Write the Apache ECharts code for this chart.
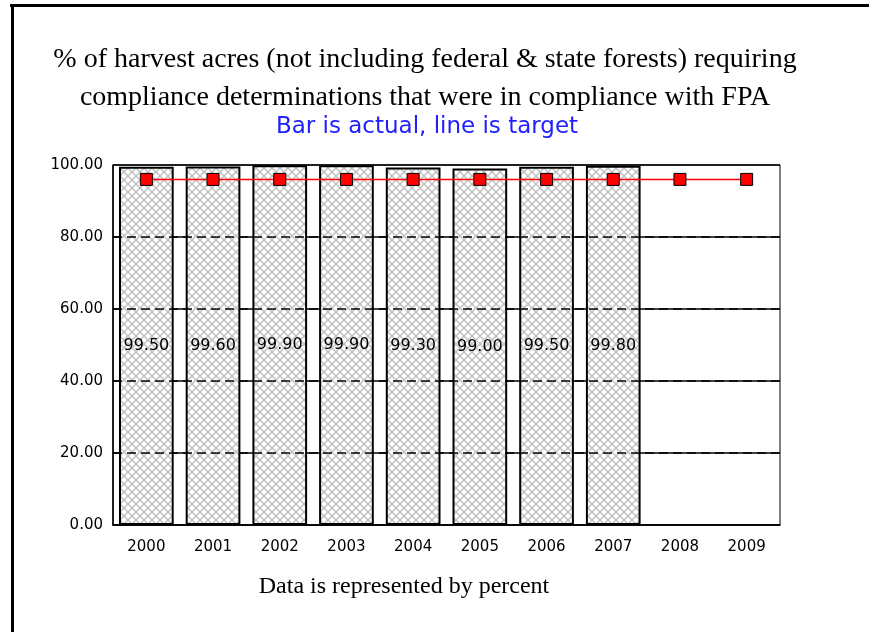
<!DOCTYPE html>
<html>
<head>
<meta charset="utf-8">
<script src="https://cdn.jsdelivr.net/npm/echarts@6/dist/echarts.min.js"></script>
<style>
html,body{margin:0;padding:0;background:#fff;}
#c{width:869px;height:632px;}
</style>
</head>
<body>
<div id="c"></div>
<script>
const years = ['2000','2001','2002','2003','2004','2005','2006','2007','2008','2009'];
const actual = [99.5, 99.6, 99.9, 99.9, 99.3, 99.0, 99.5, 99.8, null, null];
const target = [96, 96, 96, 96, 96, 96, 96, 96, 96, 96];
const yTicks = [0, 20, 40, 60, 80, 100];
const gridLevels = [20, 40, 60, 80];

const titleLine1 = '% of harvest acres (not including federal & state forests) requiring';
const titleLine2 = 'compliance determinations that were in compliance with FPA';
const subTitle = 'Bar is actual, line is target';
const footer = 'Data is represented by percent';

// hatch pattern
const pc = document.createElement('canvas');
pc.width = 8; pc.height = 8;
const g = pc.getContext('2d');
g.fillStyle = '#fff'; g.fillRect(0,0,8,8);
g.strokeStyle = '#bdbdbd'; g.lineWidth = 1.3;
g.beginPath();
g.moveTo(0,0); g.lineTo(8,8);
g.moveTo(8,0); g.lineTo(0,8);
g.stroke();

const chart = echarts.init(document.getElementById('c'), null, {renderer:'canvas'});
const serif = '"Liberation Serif", "Times New Roman", serif';
const sans = '"DejaVu Sans", Verdana, sans-serif';

chart.setOption({
  animation: false,
  backgroundColor: '#fff',
  graphic: [
    {type:'rect', shape:{x:10, y:4, width:859, height:3}, style:{fill:'#000'}, silent:true},
    {type:'rect', shape:{x:11, y:4, width:3, height:628}, style:{fill:'#000'}, silent:true},
    {type:'text', x:425, y:60, style:{text:titleLine1, font:'28px ' + serif, fill:'#000', textAlign:'center', textVerticalAlign:'middle'}},
    {type:'text', x:425, y:98, style:{text:titleLine2, font:'28px ' + serif, fill:'#000', textAlign:'center', textVerticalAlign:'middle'}},
    {type:'text', x:427, y:127, style:{text:subTitle, font:'23px ' + sans, fill:'#2020ff', textAlign:'center', textVerticalAlign:'middle'}},
    {type:'text', x:404, y:587, style:{text:footer, font:'24px ' + serif, fill:'#000', textAlign:'center', textVerticalAlign:'middle'}}
  ],
  grid: {left:113, top:165, right:89, bottom:107, show:true, borderColor:'#000', borderWidth:1, backgroundColor:'transparent'},
  xAxis: {
    type:'category', data: years, boundaryGap:true,
    axisLine:{show:true, lineStyle:{color:'#000', width:1.5}},
    axisTick:{show:false},
    axisLabel:{color:'#000', fontSize:15, fontFamily:sans, margin:15}
  },
  yAxis: {
    type:'value', min:0, max:100, interval:20,
    axisLine:{show:true, lineStyle:{color:'#000', width:1.5}},
    axisTick:{show:false},
    axisLabel:{color:'#000', fontSize:15, fontFamily:sans, margin:10, formatter: v => v.toFixed(2)},
    splitLine:{show:true, lineStyle:{color:'#000', width:1.5, type:'solid'}}
  },
  series: [
    {
      type:'bar', data: actual, barWidth:'82%', z:2,
      itemStyle:{color:{image: pc, repeat:'repeat'}, borderColor:'#000', borderWidth:2},
      label:{show:true, position:'inside', color:'#000', fontSize:16, fontFamily:sans, formatter: p => p.value.toFixed(2)},
      markLine:{
        silent:true, symbol:'none', label:{show:false}, animation:false,
        lineStyle:{color:'#000', width:1.5, type:[9,5]},
        data: gridLevels.map(v => ({yAxis:v}))
      }
    },
    {
      type:'line', data: target, z:5,
      lineStyle:{color:'#ff0000', width:1.5},
      symbol:'rect', symbolSize:12,
      itemStyle:{color:'#ff0000', borderColor:'#000', borderWidth:1}
    }
  ]
});
</script>
</body>
</html>
